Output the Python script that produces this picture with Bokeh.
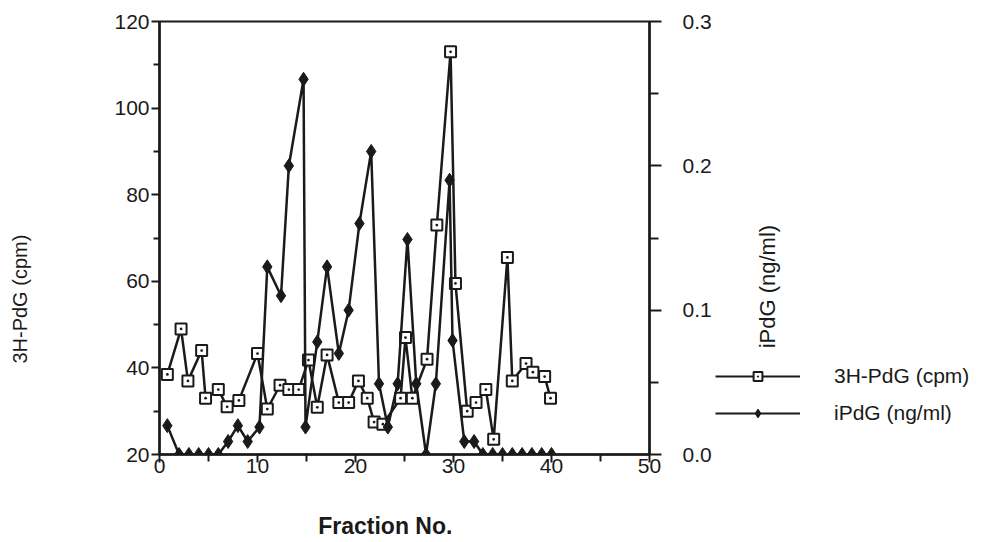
import math
from bokeh.plotting import figure
from bokeh.layouts import row
from bokeh.models import (Range1d, LinearAxis, FixedTicker, Legend, LegendItem,
                          PrintfTickFormatter, Label)
from bokeh.embed import file_html
from bokeh.resources import INLINE

# 3H-PdG (cpm) series, left axis
fraction_cpm = [0.8, 2.2, 2.9, 4.3, 4.7, 6.0, 6.9, 8.1, 10.0, 11.0, 12.3, 13.2, 14.2, 15.2,
                16.1, 17.1, 18.3, 19.3, 20.3, 21.2, 21.9, 22.8, 24.6, 25.1, 25.8, 27.3,
                28.3, 29.7, 30.2, 31.4, 32.3, 33.3, 34.1, 35.5, 36.0, 37.4, 38.1, 39.3, 39.9]
cpm = [38.5, 49, 37, 44, 33, 35, 31, 32.5, 43.3, 30.5, 36, 35, 35, 41.8,
       30.9, 43, 32, 32, 37, 33, 27.5, 27, 33, 47, 33, 42,
       73, 113, 59.5, 30, 32, 35, 23.5, 65.5, 37, 41, 39, 38, 33]

# iPdG (ng/ml) series, right axis
fraction_ipdg = [0.8, 2, 3, 4, 5, 6, 7, 8, 9, 10.2, 11.0, 12.4, 13.2, 14.7, 14.9,
                 16.1, 17.1, 18.3, 19.3, 20.4, 21.6, 22.4, 23.3, 24.3, 25.3, 26.2,
                 27.2, 28.2, 29.6, 29.9, 31.1, 32.1, 33, 34, 35, 36, 37, 38, 39, 40]
ipdg = [0.02, 0, 0, 0, 0, 0, 0.009, 0.02, 0.009, 0.019, 0.13, 0.11, 0.2, 0.26, 0.019,
        0.078, 0.13, 0.07, 0.1, 0.16, 0.21, 0.049, 0.019, 0.049, 0.149, 0.049,
        0.0, 0.049, 0.19, 0.079, 0.009, 0.009, 0, 0, 0, 0, 0, 0, 0, 0]

x_ticks = [0, 10, 20, 30, 40, 50]
x_minor = [5, 15, 25, 35, 45]
left_ticks = [20, 40, 60, 80, 100, 120]
left_minor = [30, 50, 70, 90, 110]
right_ticks = [0.0, 0.1, 0.2, 0.3]
right_minor = [0.05, 0.15, 0.25]

series_labels = ["3H-PdG (cpm)", "iPdG (ng/ml)"]

FONT = "Liberation Sans"
INK = "#1a1a1a"
H = 554
NB = "\u00a0"

p = figure(width=715, height=H, output_backend="svg", toolbar_location=None,
           x_range=Range1d(0, 50), y_range=Range1d(20, 120),
           min_border_left=159, min_border_right=66, min_border_top=21, min_border_bottom=100)
p.extra_y_ranges = {"right": Range1d(0, 0.3)}
p.grid.visible = False
p.background_fill_color = "white"
p.border_fill_color = "white"
p.outline_line_color = INK
p.outline_line_width = 2

def style_axis(ax):
    ax.axis_line_color = INK
    ax.axis_line_width = 2.5
    ax.major_tick_line_color = INK
    ax.minor_tick_line_color = INK
    ax.major_tick_line_width = 2
    ax.minor_tick_line_width = 2
    ax.major_tick_in = 0
    ax.minor_tick_in = 0
    ax.major_label_text_font = FONT
    ax.major_label_text_font_size = "21px"
    ax.major_label_text_color = INK
    ax.axis_label_text_font = FONT
    ax.axis_label_text_color = INK
    ax.axis_label_text_font_style = "normal"

xa = p.xaxis[0]
xa.ticker = FixedTicker(ticks=x_ticks, minor_ticks=x_minor)
style_axis(xa)
xa.major_tick_out = 8
xa.minor_tick_out = 7
xa.major_label_standoff = -4
xa.axis_label = "Fraction" + " " * 3 + "No." + NB * 4
xa.axis_label_text_font_style = "bold"
xa.axis_label_text_font_size = "23px"
xa.axis_label_standoff = 37

ya = p.yaxis[0]
ya.ticker = FixedTicker(ticks=left_ticks, minor_ticks=left_minor)
style_axis(ya)
ya.major_tick_out = 8
ya.minor_tick_out = 6
ya.major_label_standoff = 2
ya.axis_label = "3H-PdG  (cpm)" + NB * 21
ya.axis_label_text_font_size = "20px"
ya.axis_label_standoff = 80

ra = LinearAxis(y_range_name="right",
                ticker=FixedTicker(ticks=right_ticks, minor_ticks=right_minor),
                formatter=PrintfTickFormatter(format="%.1f"))
style_axis(ra)
ra.major_tick_out = 12
ra.minor_tick_out = 9
ra.major_label_standoff = 21
p.add_layout(ra, "right")

p.line(fraction_cpm, cpm, line_color=INK, line_width=2.5)
p.scatter(fraction_cpm, cpm, marker="square_dot", size=11, line_color=INK,
          line_width=2, fill_color="white")
p.line(fraction_ipdg, ipdg, y_range_name="right", line_color=INK, line_width=2.5)
p.scatter(fraction_ipdg, ipdg, y_range_name="right", marker="diamond", size=14,
          line_color=INK, fill_color=INK)

# side panel holding the legend and the right-axis title
W2 = 980 - 715
p2 = figure(width=W2, height=H, output_backend="svg", toolbar_location=None,
            x_range=Range1d(0, 1), y_range=Range1d(0, 1),
            min_border_left=0, min_border_right=0, min_border_top=0, min_border_bottom=0)
p2.axis.visible = False
p2.grid.visible = False
p2.outline_line_color = None
p2.background_fill_color = "white"
p2.border_fill_color = "white"

nan = [float("nan")]
k1 = p2.line(x=nan, y=nan, line_color=INK, line_width=2)
m1 = p2.scatter(x=nan, y=nan, marker="square_dot", size=11, line_color=INK, line_width=2,
                fill_color="white")
k2 = p2.line(x=nan, y=nan, line_color=INK, line_width=2)
m2 = p2.scatter(x=nan, y=nan, marker="diamond", size=14, line_color=INK, fill_color=INK)

legend = Legend(items=[LegendItem(label=series_labels[0], renderers=[k1, m1]),
                       LegendItem(label=series_labels[1], renderers=[k2, m2])],
                location=(0, 29), orientation="vertical",
                glyph_width=85, glyph_height=22, label_height=22, spacing=13,
                label_standoff=34, padding=0, margin=0,
                border_line_color=None, background_fill_alpha=0,
                label_text_font=FONT, label_text_font_size="21px", label_text_color=INK)
p2.add_layout(legend, "center")

p2.add_layout(Label(x=52, y=174, x_units="screen", y_units="screen", angle=math.pi / 2,
                    text="iPdG   (ng/ml)", text_align="center", text_baseline="middle",
                    text_font=FONT, text_font_size="22px", text_color=INK))

open("out.html", "w").write(file_html(row(p, p2, spacing=0), INLINE))
